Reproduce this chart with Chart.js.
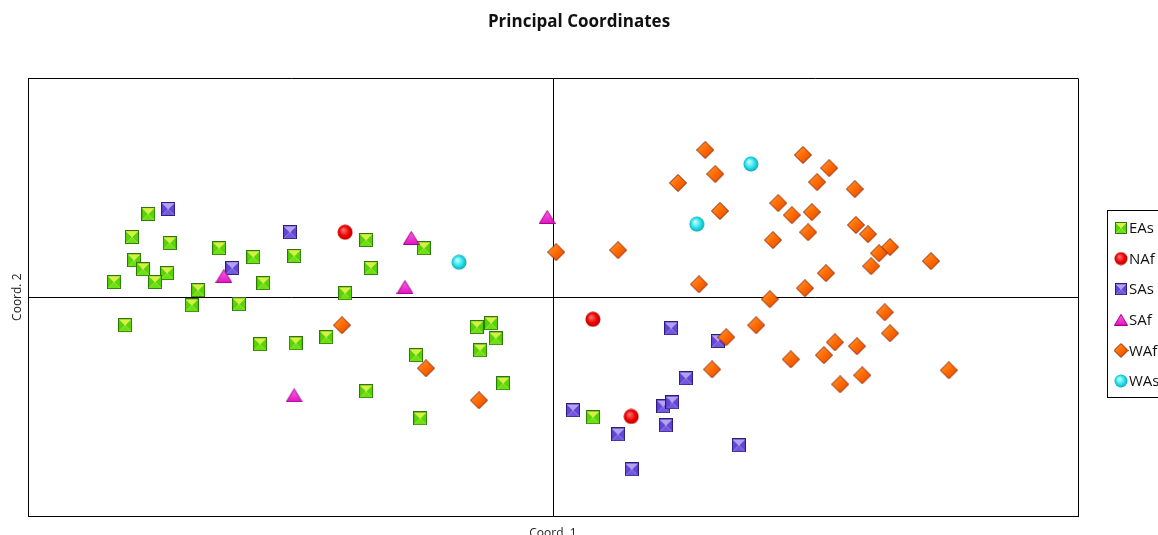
<!DOCTYPE html>
<html>
<head>
<meta charset="utf-8">
<title>Principal Coordinates</title>
<script src="https://cdn.jsdelivr.net/npm/chart.js@4.4.1/dist/chart.umd.min.js"></script>
<style>
  html, body { margin: 0; padding: 0; background: #fff; overflow: hidden; }
  #wrap { position: relative; width: 1158px; height: 535px; }
</style>
</head>
<body>
<div id="wrap"><canvas id="pcoa"></canvas></div>
<script>
// group names, in legend order
const groupNames = ['EAs', 'NAf', 'SAs', 'SAf', 'WAf', 'WAs'];

// coordinates (Coord. 1 / Coord. 2)
const easX = [-0.771, -0.802, -0.730, -0.798, -0.781, -0.735, -0.836, -0.758, -0.636, -0.571, -0.493,
  -0.676, -0.552, -0.688, -0.598, -0.815, -0.558, -0.490, -0.356, -0.246, -0.347, -0.396, -0.432,
  -0.261, -0.145, -0.118, -0.109, -0.139, -0.095, -0.356, -0.253, 0.076];
const easY = [0.380, 0.275, 0.247, 0.169, 0.128, 0.110, 0.069, 0.069, 0.224, 0.183, 0.188,
  0.032, 0.064, -0.037, -0.032, -0.128, -0.215, -0.211, 0.261, 0.224, 0.133, 0.018, -0.183,
  -0.265, -0.137, -0.119, -0.188, -0.243, -0.394, -0.430, -0.554, -0.549];

const nafX = [-0.396, 0.076, 0.149];
const nafY = [0.297, -0.101, -0.545];

const sasX = [-0.733, -0.501, -0.611, 0.225, 0.314, 0.253, 0.038, 0.210, 0.227, 0.124, 0.215, 0.354, 0.150];
const sasY = [0.403, 0.297, 0.133, -0.142, -0.201, -0.371, -0.517, -0.499, -0.481, -0.627, -0.586, -0.677, -0.787];

const safX = [-0.627, -0.270, -0.282, -0.493, -0.011];
const safY = [0.096, 0.270, 0.046, -0.449, 0.366];

const wafX = [-0.402, -0.242, -0.141, 0.006, 0.124, 0.238, 0.290, 0.309, 0.318, 0.278,
  0.476, 0.526, 0.503, 0.575, 0.429, 0.455, 0.493, 0.577, 0.600, 0.642,
  0.621, 0.486, 0.419, 0.606, 0.720, 0.520, 0.480, 0.413, 0.387, 0.330,
  0.303, 0.632, 0.642, 0.537, 0.579, 0.516, 0.453, 0.589, 0.547, 0.754];
const wafY = [-0.128, -0.325, -0.471, 0.206, 0.215, 0.522, 0.673, 0.563, 0.394, 0.059,
  0.650, 0.590, 0.526, 0.494, 0.430, 0.375, 0.389, 0.330, 0.288, 0.229,
  0.201, 0.297, 0.261, 0.142, 0.165, 0.110, 0.041, -0.009, -0.128, -0.183,
  -0.330, -0.069, -0.165, -0.206, -0.224, -0.265, -0.284, -0.357, -0.398, -0.334];

const wasX = [-0.179, 0.274, 0.377];
const wasY = [0.160, 0.334, 0.609];

const axisRange = [-1, 1];

// ---- little bevelled marker icons ----
function tri(g, a, b, c, d, e, f, col) {
  g.beginPath(); g.moveTo(a, b); g.lineTo(c, d); g.lineTo(e, f); g.closePath();
  g.fillStyle = col; g.fill();
}

function squareIcon(s, top, side, bottom, edge) {
  const c = document.createElement('canvas');
  c.width = c.height = s;
  const g = c.getContext('2d');
  const m = s / 2;
  tri(g, 0, 0, 0, s, m, m, side);
  tri(g, s, 0, s, s, m, m, side);
  tri(g, 0, s, s, s, m, m, bottom);
  tri(g, 0, 0, s, 0, m, m, top);
  g.strokeStyle = edge; g.lineWidth = 1;
  g.strokeRect(0.5, 0.5, s - 1, s - 1);
  return c;
}

function ballIcon(s, light, base, edge) {
  const c = document.createElement('canvas');
  c.width = c.height = s;
  const g = c.getContext('2d');
  const r = s / 2;
  const grad = g.createRadialGradient(r * 0.75, r * 0.7, 0.5, r, r, r);
  grad.addColorStop(0, light);
  grad.addColorStop(0.6, base);
  grad.addColorStop(1, edge);
  g.beginPath(); g.arc(r, r, r - 0.5, 0, Math.PI * 2);
  g.fillStyle = grad; g.fill();
  return c;
}

function diamondIcon(s, light, base, edge) {
  const c = document.createElement('canvas');
  c.width = c.height = s;
  const g = c.getContext('2d');
  const m = s / 2;
  g.beginPath(); g.moveTo(m, 0.5); g.lineTo(s - 0.5, m); g.lineTo(m, s - 0.5); g.lineTo(0.5, m); g.closePath();
  const grad = g.createLinearGradient(0, 0, s, s);
  grad.addColorStop(0, light);
  grad.addColorStop(0.5, base);
  grad.addColorStop(1, '#d84400');
  g.fillStyle = grad; g.fill();
  g.strokeStyle = edge; g.lineWidth = 1; g.stroke();
  return c;
}

function triangleIcon(w, h, light, base, edge) {
  const c = document.createElement('canvas');
  c.width = w; c.height = h;
  const g = c.getContext('2d');
  g.beginPath(); g.moveTo(w / 2, 0.5); g.lineTo(w - 0.5, h - 0.5); g.lineTo(0.5, h - 0.5); g.closePath();
  const grad = g.createLinearGradient(0, 0, 0, h);
  grad.addColorStop(0, light);
  grad.addColorStop(1, base);
  g.fillStyle = grad; g.fill();
  g.strokeStyle = edge; g.lineWidth = 1; g.stroke();
  return c;
}

function makeIcons(k) {
  return [
    squareIcon(Math.round(14 * k), '#d8f040', '#5ad400', '#6ee010', '#2a7a0a'),
    ballIcon(Math.round(16 * k), '#ff7070', '#ee0000', '#b00000'),
    squareIcon(Math.round(14 * k), '#b4a0f4', '#6446d4', '#7458dc', '#2a1c80'),
    triangleIcon(Math.round(17 * k), Math.round(14 * k), '#ff66e6', '#e010c0', '#a00088'),
    diamondIcon(Math.round(18 * k), '#ffa040', '#ff6a00', '#8a2200'),
    ballIcon(Math.round(16 * k), '#c8ffff', '#20e0ea', '#10a0a8')
  ];
}

const icons = makeIcons(1);
const legendIcons = makeIcons(0.85);

const xs = [easX, nafX, sasX, safX, wafX, wasX];
const ys = [easY, nafY, sasY, safY, wafY, wasY];

const datasets = groupNames.map((name, i) => ({
  label: name,
  data: xs[i].map((x, j) => ({ x: x, y: ys[i][j] })),
  pointStyle: icons[i],
  pointRadius: 7,
  pointHoverRadius: 7,
  order: groupNames.length - i
}));

// boxed legend to the right of the plot, clipped by the page edge like the original
const boxedLegend = {
  id: 'boxedLegend',
  afterDraw(chart) {
    const ctx = chart.ctx;
    const left = chart.chartArea.right + 29;
    const top = 210;
    ctx.save();
    ctx.strokeStyle = '#000';
    ctx.lineWidth = 1;
    ctx.strokeRect(left + 0.5, top + 0.5, 80, 187);
    ctx.font = '15px "Open Sans", sans-serif';
    ctx.fillStyle = '#111';
    ctx.textBaseline = 'middle';
    groupNames.forEach((name, i) => {
      const cy = top + 18 + i * 30.6;
      const img = legendIcons[i];
      ctx.drawImage(img, left + 14 - img.width / 2, cy - img.height / 2);
      ctx.fillText(name, left + 22, cy + 1);
    });
    ctx.restore();
  }
};

new Chart(document.getElementById('pcoa'), {
  type: 'scatter',
  data: { datasets: datasets },
  options: {
    responsive: true,
    maintainAspectRatio: false,
    animation: false,
    layout: { padding: 0 },
    plugins: {
      legend: { display: false },
      tooltip: { enabled: false },
      title: {
        display: true,
        text: 'Principal Coordinates',
        color: '#111',
        font: { family: '"Open Sans", sans-serif', size: 17, weight: 'bold' },
        padding: { top: 12, bottom: 46 }
      }
    },
    scales: {
      x: {
        type: 'linear',
        min: axisRange[0],
        max: axisRange[1],
        ticks: { display: false, stepSize: 1 },
        grid: { color: '#000', lineWidth: 1, drawTicks: false },
        border: { display: true, color: '#000' },
        title: {
          display: true,
          text: 'Coord. 1',
          color: '#222',
          font: { family: '"Open Sans", sans-serif', size: 12 },
          padding: { top: 0, bottom: -6 }
        },
        afterFit(scale) { scale.height = 19; }
      },
      y: {
        type: 'linear',
        min: axisRange[0],
        max: axisRange[1],
        ticks: { display: false, stepSize: 1 },
        grid: { color: '#000', lineWidth: 1, drawTicks: false },
        border: { display: true, color: '#000' },
        title: {
          display: true,
          text: 'Coord. 2',
          color: '#222',
          font: { family: '"Open Sans", sans-serif', size: 12 },
          padding: { top: 10, bottom: 0 }
        },
        afterFit(scale) { scale.width = 28; }
      },
      // empty right-hand axis that only reserves room for the legend
      side: {
        type: 'linear',
        position: 'right',
        min: axisRange[0],
        max: axisRange[1],
        ticks: { display: false },
        grid: { display: false },
        border: { display: false },
        afterFit(scale) { scale.width = 80; }
      }
    }
  },
  plugins: [boxedLegend]
});
</script>
</body>
</html>
